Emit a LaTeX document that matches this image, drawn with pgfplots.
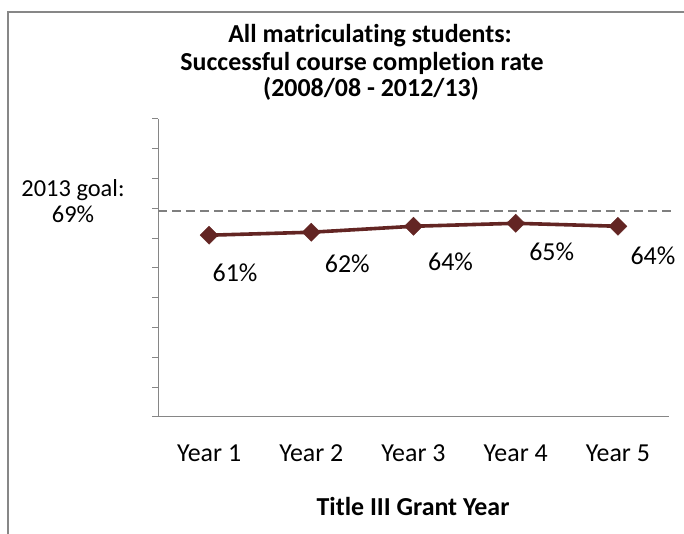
\documentclass[border=0pt]{standalone}
\usepackage{pgfplots}
\pgfplotsset{compat=1.18}
\usepackage{fontspec}
\setmainfont{Carlito}[Ligatures=NoCommon]

\definecolor{linered}{HTML}{632523}
\definecolor{axgray}{HTML}{868686}
\definecolor{dashgray}{HTML}{7F7F7F}
\definecolor{framegray}{HTML}{878787}

\newcommand{\lblfont}{\fontsize{26}{31}\selectfont}
\newcommand{\goalfont}{\fontsize{24.5}{29}\selectfont}

\begin{document}
\begin{tikzpicture}[x=1bp,y=1bp]
\useasboundingbox (0,0) rectangle (684,534);
% chart frame
\draw[framegray, line width=2bp] (8,0) -- (8,522) -- (684,522);
% title
\node[font=\bfseries\lblfont, anchor=base] at (370,491) {All matriculating students:};
\node[font=\bfseries\lblfont, anchor=base] at (362,463) {Successful course completion rate};
\node[font=\bfseries\lblfont, anchor=base] at (371,437) {(2008/08 - 2012/13)};
% goal annotation
\node[font=\goalfont, anchor=base] at (73,337) {2013 goal:};
\node[font=\goalfont, anchor=base] at (73,311) {69\%};
% axis title
\node[font=\bfseries\lblfont, anchor=base] at (413,18) {Title III Grant Year};

\begin{axis}[
  at={(158bp,117bp)}, anchor=south west,
  width=511bp, height=298bp, scale only axis,
  xmin=0.5, xmax=5.5, ymin=0, ymax=100,
  axis x line*=bottom, axis y line*=left,
  axis line style={axgray, line width=1bp},
  every tick/.style={axgray, line width=1bp},
  tick align=outside,
  major tick length=6bp,
  minor tick length=9bp,
  ytick={0,10,...,100}, yticklabels={},
  xtick=\empty,
  minor xtick={0.5,1.5,...,5.5},
  extra x ticks={1,2,3,4,5},
  extra x tick labels={Year 1,Year 2,Year 3,Year 4,Year 5},
  extra x tick style={major tick length=0pt,
    tick label style={font=\lblfont, anchor=base, yshift=-45bp}},
  clip=false,
]
% goal line
\addplot[dashgray, line width=2bp, dash pattern=on 9bp off 5bp]
  coordinates {(0.5,69) (5.53,69)};
% completion rate
\addplot[linered, line width=3.6bp, mark=square*,
  mark size=6.4bp, mark options={rotate=45, fill=linered, draw=linered, line width=0.4bp, solid}]
  coordinates {(1,61) (2,62) (3,64) (4,65) (5,64)};
% value labels
\node[font=\lblfont, anchor=base, xshift=26bp, yshift=-46bp] at (axis cs:1,61) {61\%};
\node[font=\lblfont, anchor=base, xshift=36bp, yshift=-40bp] at (axis cs:2,62) {62\%};
\node[font=\lblfont, anchor=base, xshift=37bp, yshift=-44bp] at (axis cs:3,64) {64\%};
\node[font=\lblfont, anchor=base, xshift=36bp, yshift=-37bp] at (axis cs:4,65) {65\%};
\node[font=\lblfont, anchor=base, xshift=35bp, yshift=-38bp] at (axis cs:5,64) {64\%};
\end{axis}
\end{tikzpicture}
\end{document}
